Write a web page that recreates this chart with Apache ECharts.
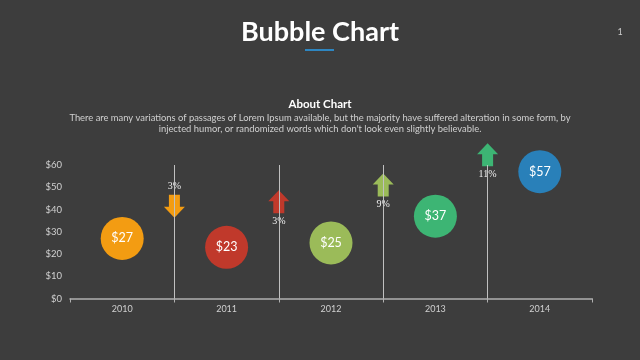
<!DOCTYPE html>
<html>
<head>
<meta charset="utf-8">
<script src="https://cdn.jsdelivr.net/npm/echarts@6/dist/echarts.min.js"></script>
<style>html,body{margin:0;padding:0;background:#3d3d3d;}#c{width:640px;height:360px;}</style>
</head>
<body>
<div id="c"></div>
<script>
const categories = ['2010', '2011', '2012', '2013', '2014'];
const values = [27, 23, 25, 37, 57];
const bubbleColors = ['#f39c12', '#c0392b', '#9bbb59', '#3db574', '#2980b9'];
const yTicks = [0, 10, 20, 30, 40, 50, 60];
const boundaryPositions = [1, 2, 3, 4];
const changeLabels = ['3%', '3%', '9%', '11%'];
const changeDirections = ['down', 'up', 'up', 'up'];
const arrowLevels = [41.5, 43.5, 51, 64.6];
const arrowColors = ['#f39c12', '#c0392b', '#9bbb59', '#3db574'];

const arrowPath = 'path://M10.5,0 L21,11 L16,11 L16,23 L5,23 L5,11 L0,11 Z';

const chart = echarts.init(document.getElementById('c'), null, {renderer: 'canvas'});
chart.setOption({
  backgroundColor: '#3d3d3d',
  animation: false,
  graphic: [
    {type: 'text', x: 320, y: 32, style: {text: 'Bubble Chart', fill: '#ffffff', font: 'bold 27px Lato', align: 'center', verticalAlign: 'middle'}},
    {type: 'rect', shape: {x: 305, y: 49, width: 29, height: 2}, style: {fill: '#2e86c1'}},
    {type: 'text', x: 620, y: 32, style: {text: '1', fill: '#cccccc', font: '9px Lato', align: 'center', verticalAlign: 'middle'}},
    {type: 'text', x: 320, y: 104, style: {text: 'About Chart', fill: '#ffffff', font: 'bold 11.5px Lato', align: 'center', verticalAlign: 'middle'}},
    {type: 'text', x: 320, y: 118, style: {text: 'There are many variations of passages of Lorem Ipsum available, but the majority have suffered alteration in some form, by', fill: '#d0d0d0', font: '9.4px Lato', align: 'center', verticalAlign: 'middle'}},
    {type: 'text', x: 320, y: 129, style: {text: "injected humor, or randomized words which don't look even slightly believable.", fill: '#d0d0d0', font: '9.4px Lato', align: 'center', verticalAlign: 'middle'}}
  ],
  grid: {left: 70, right: 48, top: 165, bottom: 61.5},
  xAxis: [
    {
      type: 'category', data: categories, boundaryGap: true,
      axisLine: {lineStyle: {color: '#b0b0b0', width: 1.5}},
      axisTick: {show: true, length: 4, lineStyle: {color: '#b0b0b0'}},
      axisLabel: {color: '#d0d0d0', fontSize: 9, fontFamily: 'Lato', margin: 6},
      splitLine: {show: false}
    },
    {
      type: 'value', min: 0, max: 5, show: false, position: 'bottom'
    }
  ],
  yAxis: {
    type: 'value', min: yTicks[0], max: yTicks[yTicks.length - 1], interval: 10,
    axisLine: {show: false}, axisTick: {show: false}, splitLine: {show: false},
    axisLabel: {color: '#d0d0d0', fontSize: 9.5, fontFamily: 'Lato', margin: 8, formatter: v => '$' + v}
  },
  series: [
    {
      type: 'scatter', xAxisIndex: 1, yAxisIndex: 0, clip: false, z: 3,
      symbol: arrowPath, symbolSize: [21, 23],
      itemStyle: {opacity: 1},
      data: boundaryPositions.map((b, i) => ({
        value: [b, arrowLevels[i]],
        symbolRotate: changeDirections[i] === 'down' ? 180 : 0,
        itemStyle: {color: arrowColors[i], opacity: 1},
        label: {position: changeDirections[i] === 'down' ? 'top' : 'bottom'}
      })),
      label: {show: true, formatter: p => changeLabels[p.dataIndex], color: '#eeeeee', fontSize: 10, fontFamily: 'Liberation Serif', distance: 3},
      markLine: {
        silent: true, symbol: ['none', 'none'], label: {show: false},
        lineStyle: {color: '#c0c0c0', width: 1, type: 'solid'},
        data: boundaryPositions.map(b => ({xAxis: b}))
      }
    },
    {
      type: 'scatter', xAxisIndex: 0, yAxisIndex: 0, z: 4,
      symbolSize: 43,
      itemStyle: {opacity: 1},
      data: values.map((v, i) => ({value: v, itemStyle: {color: bubbleColors[i], opacity: 1}})),
      label: {show: true, position: 'inside', formatter: p => '$' + p.value, color: '#ffffff', fontSize: 12.5, fontFamily: 'Lato'}
    }
  ]
});
</script>
</body>
</html>
